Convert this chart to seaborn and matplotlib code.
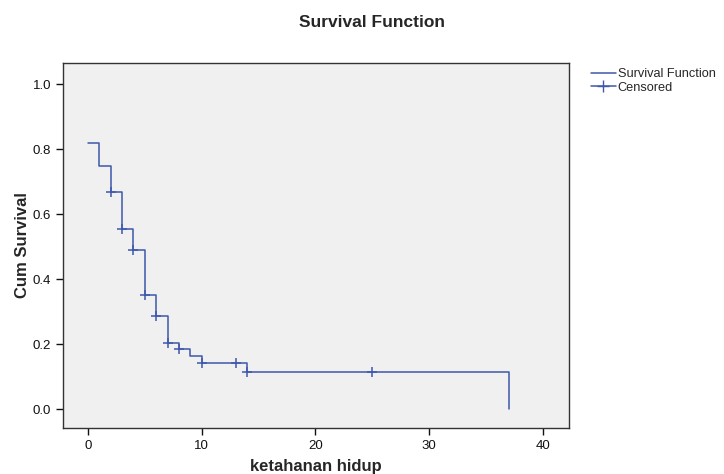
import numpy as np
import pandas as pd
import matplotlib
matplotlib.use('Agg')
import matplotlib.pyplot as plt
from matplotlib.lines import Line2D
import seaborn as sns

# ── Data ──────────────────────────────────────────────────────────────
event_time = [0, 1, 2, 3, 4, 5, 6, 7, 8, 9, 10, 14, 37, 37]
cum_surv   = [0.818, 0.748, 0.668, 0.555, 0.489, 0.350, 0.286, 0.204,
              0.184, 0.164, 0.143, 0.114, 0.114, 0.0]
cens_time  = [2, 3, 4, 5, 6, 7, 8, 10, 13, 14, 25]
cens_surv  = [0.668, 0.555, 0.489, 0.350, 0.286, 0.204, 0.184, 0.143,
              0.143, 0.114, 0.114]

LINE_C = '#3e58ac'

sns.set_style('ticks')
plt.rcParams['font.family'] = ['Liberation Sans', 'DejaVu Sans']

surv_df = pd.DataFrame({'t': event_time, 's': cum_surv})
cens_df = pd.DataFrame({'t': cens_time, 's': cens_surv})

fig = plt.figure(figsize=(7.24, 4.74), dpi=100)
ax = fig.add_axes([0.087, 0.097, 0.699, 0.770])
ax.set_facecolor('#f0f0f0')

sns.lineplot(data=surv_df, x='t', y='s', drawstyle='steps-post',
             estimator=None, sort=False, color=LINE_C, linewidth=1.1, ax=ax)
sns.scatterplot(data=cens_df, x='t', y='s', marker='+', s=45,
                color=LINE_C, linewidth=1.1, ax=ax, zorder=3)

ax.set_xlim(-2.2, 42.3)
ax.set_ylim(-0.058, 1.065)
ax.set_xticks([0, 10, 20, 30, 40])
ax.set_yticks([0.0, 0.2, 0.4, 0.6, 0.8, 1.0])
ax.set_yticklabels(['0.0', '0.2', '0.4', '0.6', '0.8', '1.0'])
ax.tick_params(direction='out', length=5, width=1, labelsize=9.5,
               colors='#111111')
for sp in ax.spines.values():
    sp.set_visible(True)
    sp.set_color('#333333')
    sp.set_linewidth(1)

ax.set_xlabel('ketahanan hidup', fontsize=12, fontweight='bold', labelpad=5)
ax.set_ylabel('Cum Survival', fontsize=12, fontweight='bold', labelpad=2)
fig.text(0.514, 0.953, 'Survival Function', ha='center', va='center',
         fontsize=12.5, fontweight='bold')

handles = [
    Line2D([0], [0], color=LINE_C, lw=1.1),
    Line2D([0], [0], color=LINE_C, lw=1.1, marker='+', markersize=9),
]
fig.legend(handles, ['Survival Function', 'Censored'],
           loc='upper left', bbox_to_anchor=(0.800, 0.880), frameon=False,
           fontsize=9.2, handlelength=2.0, handletextpad=0.1,
           labelspacing=0.1)

plt.savefig('out.png', dpi=100)
plt.close()
